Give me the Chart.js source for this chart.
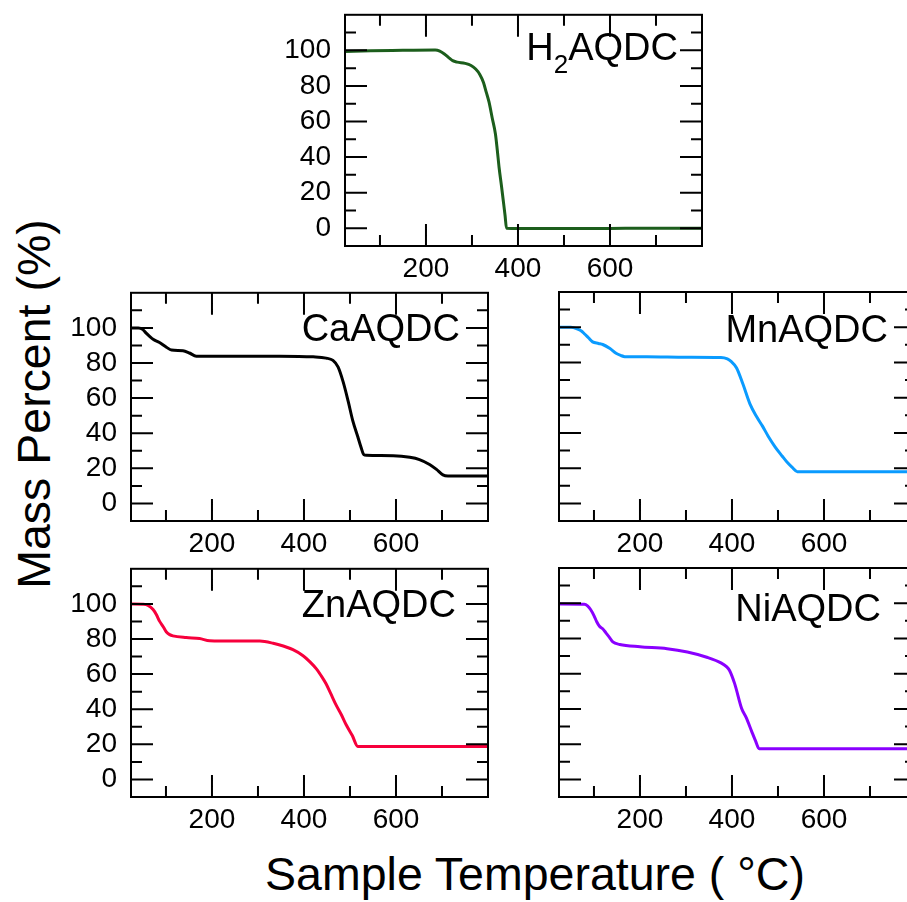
<!DOCTYPE html>
<html>
<head>
<meta charset="utf-8">
<script src="https://cdn.jsdelivr.net/npm/chart.js@4.4.1/dist/chart.umd.min.js"></script>
<style>
  html, body { margin: 0; padding: 0; width: 907px; height: 902px; overflow: hidden; background: #fff; }
  canvas { position: absolute; }
  .axis-title { position: absolute; font-family: "Liberation Sans", Arial, Helvetica, sans-serif; color: #000; white-space: nowrap; line-height: 1; }
</style>
</head>
<body>
<div id="xTitle" class="axis-title">Sample Temperature ( °C)</div>
<div id="yTitle" class="axis-title">Mass Percent (%)</div>
<canvas id="pH2"></canvas>
<canvas id="pCa"></canvas>
<canvas id="pMn"></canvas>
<canvas id="pZn"></canvas>
<canvas id="pNi"></canvas>
<script>
// Thermogravimetric traces: temperature (°C) and remaining mass (%)
const h2Temp = [24, 80, 150, 220, 230, 240, 250, 258, 268, 285, 298, 308, 317, 325, 331, 337, 344, 351, 355, 359, 364, 368, 372, 375, 400, 500, 600, 700, 800];
const h2Mass = [99.4, 99.8, 100, 100.2, 99.6, 98, 95.8, 94.2, 93.4, 92.7, 91.5, 89.5, 86.5, 82, 76.5, 71, 62, 53, 44, 34, 24, 15.6, 7, 0, -0.1, -0.2, -0.1, 0, 0];

const caTemp = [23, 40, 50, 57, 65, 72, 86, 101, 112, 137, 151, 166, 195, 347, 420, 448, 463, 474, 485, 496, 506, 517, 524, 530, 536, 594, 630, 651, 673, 688, 702, 713, 800];
const caMass = [100, 100, 99, 97, 95, 93.5, 91.7, 89, 87.4, 87, 85.7, 83.9, 83.9, 83.9, 83.5, 82.8, 81.5, 77.8, 69.4, 58.3, 47.2, 38, 32, 27.8, 27.4, 27.2, 26.3, 25, 22.2, 19.4, 16.3, 15.7, 15.7];

const mnTemp = [23, 50, 64, 72, 79, 88, 97, 110, 119, 134, 148, 158, 167, 215, 300, 376, 390, 398, 410, 424, 439, 454, 466, 479, 494, 509, 521, 531, 542, 800];
const mnMass = [100, 100, 99, 98, 96.3, 94, 91.7, 90.8, 90.2, 88, 85.2, 84, 83.3, 83.3, 83, 82.8, 82, 80.6, 76.9, 67.6, 56.5, 49, 44, 38, 32, 26.9, 23, 20.4, 18, 18];

const znTemp = [21, 50, 61, 72, 79, 86, 94, 101, 108, 115, 144, 173, 195, 250, 304, 333, 355, 376, 398, 413, 427, 440, 448, 458, 470, 481, 492, 505, 517, 800];
const znMass = [100, 99.8, 99.2, 96.8, 94, 90.2, 87, 84, 82.5, 81.8, 80.8, 80.3, 79, 78.8, 78.8, 77.6, 76, 73.9, 70.5, 67, 63, 58, 54.5, 49, 42.3, 37, 31, 25, 18.8, 18.8];

const niTemp = [23, 79, 86, 93, 100, 106, 112, 119, 126, 134, 141, 156, 200, 259, 303, 347, 377, 388, 395, 406, 421, 431, 443, 451, 459, 800];
const niMass = [99.6, 99.4, 98.5, 96.3, 93, 89.5, 86.9, 85.5, 83.2, 80.5, 78, 76.6, 75.3, 74.2, 72.3, 69.2, 66, 64, 61.7, 54.2, 40.2, 35, 27.1, 22, 17.4, 17.4];

// Axis ticks
const xLabelTicks = [200, 400, 600];
const xMinorTicks = [100, 300, 500, 700];
const yLabelTicks = [0, 20, 40, 60, 80, 100];
const yMinorTicks = [-10, 10, 30, 50, 70, 90, 110];

const X_MIN = 24, X_MAX = 800, Y_MIN = -10, Y_MAX = 120;
const FONT = '"Liberation Sans", Arial, Helvetica, sans-serif';

// Panel layout: plot box [left, top, right, bottom] in page pixels
const panels = [
  { id: 'pH2', parts: [['H'], ['2', true], ['AQDC']], temp: h2Temp, mass: h2Mass, color: '#1c5e1c',
    box: [345, 14, 702, 246], yLabels: true, tag: { right: 24, base: 45 } },
  { id: 'pCa', parts: [['CaAQDC']], temp: caTemp, mass: caMass, color: '#000000',
    box: [131, 292, 488, 521], yLabels: true, tag: { right: 28, base: 48 } },
  { id: 'pMn', parts: [['MnAQDC']], temp: mnTemp, mass: mnMass, color: '#0a9bff',
    box: [559, 292, 916, 521], yLabels: false, tag: { right: 28, base: 50 } },
  { id: 'pZn', parts: [['ZnAQDC']], temp: znTemp, mass: znMass, color: '#f7003c',
    box: [131, 568, 488, 797], yLabels: true, tag: { right: 32, base: 48 } },
  { id: 'pNi', parts: [['NiAQDC']], temp: niTemp, mass: niMass, color: '#8a00ff',
    box: [559, 568, 916, 797], yLabels: false, tag: { right: 35, base: 53 } }
];

const PAD_T = 30, PAD_R = 20, Y_W = 70, X_H = 50;

// Frame with inward ticks on all four sides, plus the sample name
const framePlugin = {
  id: 'frame',
  afterDatasetsDraw(chart, args, opts) {
    const { ctx, chartArea: a, scales } = chart;
    const xs = scales.x, ys = scales.y;
    ctx.save();
    ctx.strokeStyle = '#000';
    ctx.lineWidth = 2;
    ctx.lineCap = 'butt';
    ctx.beginPath();
    const tick = (vals, len) => {
      vals.forEach(v => {
        const px = xs.getPixelForValue(v);
        ctx.moveTo(px, a.bottom); ctx.lineTo(px, a.bottom - len);
        ctx.moveTo(px, a.top); ctx.lineTo(px, a.top + len);
      });
    };
    const ytick = (vals, len) => {
      vals.forEach(v => {
        const py = ys.getPixelForValue(v);
        ctx.moveTo(a.left, py); ctx.lineTo(a.left + len, py);
        ctx.moveTo(a.right, py); ctx.lineTo(a.right - len, py);
      });
    };
    tick(xLabelTicks, 22);
    tick(xMinorTicks, 11);
    ytick(yLabelTicks, 22);
    ytick(yMinorTicks, 11);
    ctx.stroke();
    ctx.strokeRect(a.left, a.top, a.right - a.left, a.bottom - a.top);

    // sample name, right aligned
    const p = opts.panel;
    const big = '38px ' + FONT, small = '26px ' + FONT;
    let w = 0;
    p.parts.forEach(([t, sub]) => { ctx.font = sub ? small : big; w += ctx.measureText(t).width; });
    let x = a.right - p.tag.right - w;
    const base = a.top + p.tag.base;
    ctx.fillStyle = '#000';
    ctx.textBaseline = 'alphabetic';
    ctx.textAlign = 'left';
    p.parts.forEach(([t, sub]) => {
      ctx.font = sub ? small : big;
      ctx.fillText(t, x, sub ? base + 13 : base);
      x += ctx.measureText(t).width;
    });
    ctx.restore();
  }
};

panels.forEach(p => {
  const [L, T, R, B] = p.box;
  const cv = document.getElementById(p.id);
  const w = (R - L) + Y_W + PAD_R;
  const h = (B - T) + PAD_T + X_H;
  cv.width = w; cv.height = h;
  cv.style.width = w + 'px'; cv.style.height = h + 'px';
  cv.style.left = (L - Y_W) + 'px';
  cv.style.top = (T - PAD_T) + 'px';

  new Chart(cv, {
    type: 'line',
    data: {
      datasets: [{
        data: p.temp.map((t, i) => ({ x: t, y: p.mass[i] })),
        borderColor: p.color,
        borderWidth: 3,
        pointRadius: 0,
        fill: false,
        cubicInterpolationMode: 'monotone'
      }]
    },
    options: {
      responsive: false,
      animation: false,
      devicePixelRatio: 1,
      layout: { padding: { left: 0, top: PAD_T, right: PAD_R, bottom: 0 } },
      plugins: { legend: { display: false }, tooltip: { enabled: false }, frame: { panel: p } },
      scales: {
        x: {
          type: 'linear', min: X_MIN, max: X_MAX,
          grid: { display: false, drawTicks: false, tickLength: 0 },
          border: { display: false },
          afterBuildTicks: s => { s.ticks = xLabelTicks.map(v => ({ value: v })); },
          afterFit: s => { s.height = X_H; },
          ticks: { color: '#000', font: { family: FONT, size: 28 }, padding: 6, maxRotation: 0, autoSkip: false }
        },
        y: {
          type: 'linear', min: Y_MIN, max: Y_MAX,
          grid: { display: false, drawTicks: false, tickLength: 0 },
          border: { display: false },
          afterBuildTicks: s => { s.ticks = yLabelTicks.map(v => ({ value: v })); },
          afterFit: s => { s.width = Y_W; },
          ticks: { display: p.yLabels, color: '#000', font: { family: FONT, size: 28 }, padding: 14, autoSkip: false }
        }
      }
    },
    plugins: [framePlugin]
  });
});

// Shared axis titles
const xt = document.getElementById('xTitle');
xt.style.fontSize = '46.5px';
xt.style.left = '535px';
xt.style.top = (890 - 0.8465 * 46.5) + 'px';
xt.style.transform = 'translateX(-50%)';

const yt = document.getElementById('yTitle');
yt.style.fontSize = '46.5px';
yt.style.left = '34px';
yt.style.top = '404px';
yt.style.transform = 'translate(-50%, -50%) rotate(-90deg)';
</script>
</body>
</html>
